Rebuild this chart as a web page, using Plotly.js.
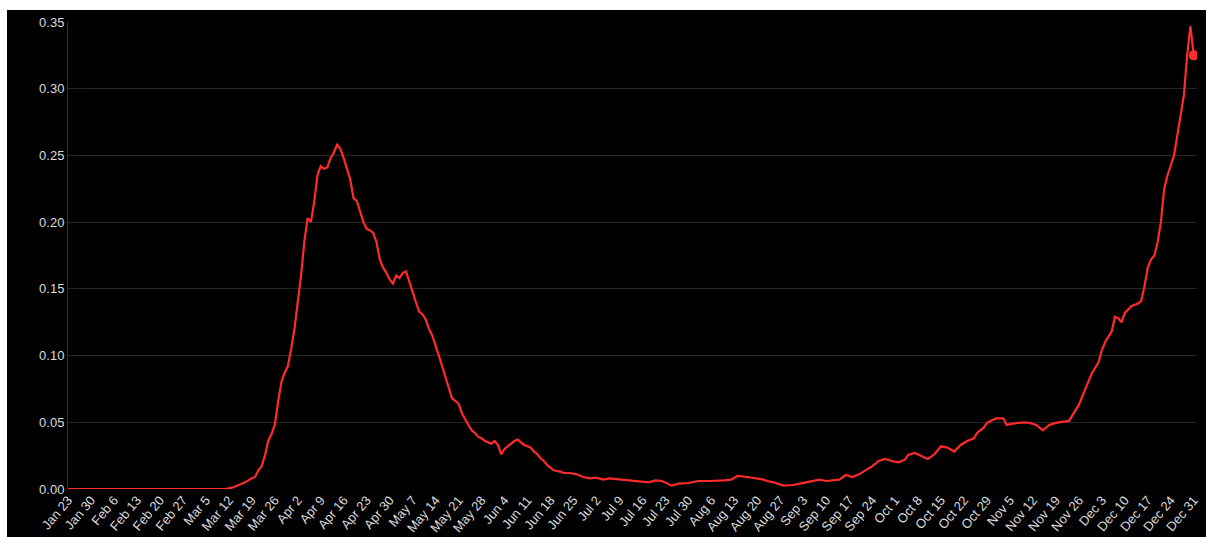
<!DOCTYPE html>
<html>
<head>
<meta charset="utf-8">
<script src="https://cdn.plot.ly/plotly-3.0.1.min.js"></script>
<style>
  html, body { margin: 0; padding: 0; background: #ffffff; width: 1206px; height: 537px; overflow: hidden; }
  #chart { position: absolute; left: 7px; top: 10px; width: 1199px; height: 527px; }
</style>
</head>
<body>
<div id="chart"></div>
<script>
// Dates (2020) and values
const dates = [
  "2020-01-23","2020-03-11","2020-03-13","2020-03-15","2020-03-17","2020-03-19","2020-03-20","2020-03-21","2020-03-22","2020-03-23",
  "2020-03-24","2020-03-25","2020-03-26","2020-03-27","2020-03-28","2020-03-29","2020-03-30","2020-03-31","2020-04-01","2020-04-02",
  "2020-04-03","2020-04-04","2020-04-05","2020-04-06","2020-04-07","2020-04-08","2020-04-09","2020-04-10","2020-04-11","2020-04-12",
  "2020-04-13","2020-04-14","2020-04-15","2020-04-16","2020-04-17","2020-04-18","2020-04-19","2020-04-20","2020-04-21","2020-04-22",
  "2020-04-23","2020-04-24","2020-04-25","2020-04-26","2020-04-27","2020-04-28","2020-04-29","2020-04-30","2020-05-01","2020-05-02",
  "2020-05-03","2020-05-04","2020-05-05","2020-05-06","2020-05-07","2020-05-08","2020-05-09","2020-05-10","2020-05-11","2020-05-12",
  "2020-05-13","2020-05-14","2020-05-15","2020-05-16","2020-05-17","2020-05-18","2020-05-19","2020-05-20","2020-05-21","2020-05-22",
  "2020-05-23","2020-05-24","2020-05-25","2020-05-26","2020-05-27","2020-05-28","2020-05-29","2020-05-30","2020-05-31","2020-06-01",
  "2020-06-02","2020-06-03","2020-06-04","2020-06-05","2020-06-06","2020-06-07","2020-06-08","2020-06-09","2020-06-10","2020-06-11",
  "2020-06-12","2020-06-13","2020-06-14","2020-06-15","2020-06-16","2020-06-17","2020-06-18","2020-06-19","2020-06-21","2020-06-22",
  "2020-06-24","2020-06-26","2020-06-28","2020-06-30","2020-07-02","2020-07-04","2020-07-06","2020-07-08","2020-07-11","2020-07-14",
  "2020-07-16","2020-07-18","2020-07-20","2020-07-22","2020-07-25","2020-07-27","2020-07-30","2020-08-02","2020-08-05","2020-08-08",
  "2020-08-10","2020-08-12","2020-08-14","2020-08-17","2020-08-20","2020-08-22","2020-08-23","2020-08-25","2020-08-28","2020-08-31",
  "2020-09-02","2020-09-05","2020-09-08","2020-09-10","2020-09-12","2020-09-14","2020-09-16","2020-09-18","2020-09-20","2020-09-22",
  "2020-09-24","2020-09-26","2020-09-28","2020-09-30","2020-10-02","2020-10-04","2020-10-05","2020-10-07","2020-10-09","2020-10-11",
  "2020-10-13","2020-10-14","2020-10-15","2020-10-17","2020-10-19","2020-10-21","2020-10-23","2020-10-25","2020-10-26","2020-10-28",
  "2020-10-29","2020-10-31","2020-11-01","2020-11-03","2020-11-04","2020-11-06","2020-11-07","2020-11-09","2020-11-11","2020-11-13",
  "2020-11-15","2020-11-17","2020-11-19","2020-11-21","2020-11-23","2020-11-24","2020-11-26","2020-11-28","2020-11-30","2020-12-02",
  "2020-12-03","2020-12-04","2020-12-06","2020-12-07","2020-12-08","2020-12-09","2020-12-10","2020-12-12","2020-12-14","2020-12-15",
  "2020-12-16","2020-12-17","2020-12-18","2020-12-19","2020-12-20","2020-12-21","2020-12-22","2020-12-23","2020-12-24","2020-12-25",
  "2020-12-26","2020-12-27","2020-12-28","2020-12-29","2020-12-30","2020-12-31"
];
const values = [
  0,0,0.001,0.003,0.005,0.008,0.009,0.014,0.017,0.025,
  0.036,0.041,0.048,0.065,0.080,0.087,0.092,0.105,0.120,0.140,
  0.160,0.185,0.203,0.200,0.215,0.235,0.242,0.240,0.241,0.248,
  0.252,0.258,0.255,0.248,0.240,0.232,0.218,0.216,0.208,0.200,
  0.195,0.194,0.192,0.185,0.172,0.166,0.162,0.157,0.154,0.160,
  0.158,0.162,0.163,0.155,0.148,0.140,0.133,0.131,0.127,0.120,
  0.115,0.108,0.100,0.092,0.084,0.075,0.068,0.066,0.064,0.057,
  0.052,0.048,0.044,0.042,0.039,0.038,0.036,0.035,0.034,0.036,
  0.033,0.026,0.030,0.032,0.034,0.036,0.037,0.035,0.033,0.032,
  0.031,0.028,0.026,0.023,0.021,0.018,0.016,0.014,0.013,0.012,
  0.012,0.011,0.009,0.008,0.0085,0.007,0.008,0.0075,0.007,0.006,
  0.0055,0.005,0.0065,0.006,0.0025,0.004,0.0045,0.006,0.006,0.006,
  0.0065,0.007,0.0098,0.009,0.008,0.007,0.006,0.005,0.0025,0.003,
  0.004,0.0055,0.007,0.006,0.0065,0.007,0.0105,0.009,0.011,0.014,
  0.017,0.021,0.0225,0.021,0.020,0.022,0.0255,0.027,0.025,0.0225,
  0.026,0.029,0.032,0.031,0.028,0.033,0.036,0.038,0.042,0.046,
  0.0495,0.052,0.053,0.053,0.048,0.049,0.0495,0.050,0.0495,0.048,
  0.044,0.048,0.0495,0.050,0.051,0.055,0.063,0.075,0.087,0.095,
  0.104,0.110,0.118,0.129,0.128,0.125,0.132,0.137,0.139,0.141,
  0.152,0.166,0.172,0.175,0.185,0.200,0.225,0.235,0.242,0.250,
  0.265,0.280,0.295,0.325,0.347,0.325
];
const lastDate = [dates[dates.length - 1]];
const lastValue = [values[values.length - 1]];
const yTicks = [0, 0.05, 0.10, 0.15, 0.20, 0.25, 0.30, 0.35];

const red = "#ff2b2b";
const traces = [
  { x: dates, y: values, type: "scatter", mode: "lines",
    line: { color: red, width: 2.2 }, hoverinfo: "x+y" },
  { x: lastDate, y: lastValue, type: "scatter", mode: "markers",
    marker: { color: red, size: 10 }, hoverinfo: "x+y" }
];

const layout = {
  width: 1199, height: 527,
  paper_bgcolor: "#000000", plot_bgcolor: "#000000",
  margin: { l: 61, r: 9, t: 12, b: 48 },
  showlegend: false,
  font: { family: "Liberation Sans, Arial, sans-serif", color: "#dddddd", size: 13 },
  xaxis: {
    type: "date",
    range: ["2020-01-23", "2021-01-01"],
    tick0: "2020-01-23", dtick: 7 * 24 * 3600 * 1000,
    tickformat: "%b %-d", tickangle: -50,
    tickfont: { size: 13, color: "#dddddd" },
    showgrid: false, zeroline: false,
    showline: false, ticks: "", automargin: false
  },
  yaxis: {
    range: [0, 0.35],
    tickvals: yTicks, tickformat: ".2f",
    tickfont: { size: 13, color: "#dddddd" },
    gridcolor: "#262626", gridwidth: 1,
    zeroline: false, showline: true, linecolor: "#333333", linewidth: 1,
    ticks: "", automargin: false
  }
};

Plotly.newPlot("chart", traces, layout, { displayModeBar: false, staticPlot: true });
</script>
</body>
</html>
